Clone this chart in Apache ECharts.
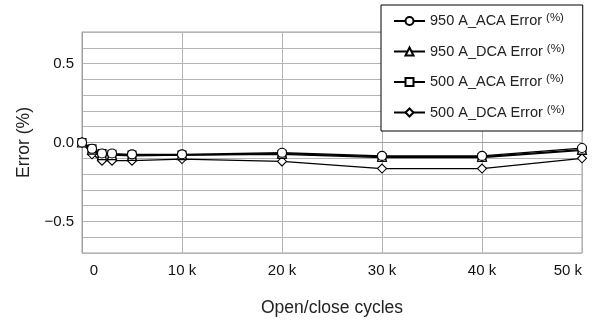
<!DOCTYPE html>
<html>
<head>
<meta charset="utf-8">
<script src="https://cdn.jsdelivr.net/npm/echarts@6/dist/echarts.min.js"></script>
<style>
  html, body { margin: 0; padding: 0; background: #fff; }
  #chart { width: 604px; height: 322px; }
</style>
</head>
<body>
<div id="chart"></div>
<script>
// open/close cycles and error (%) per series
let cycles = [0, 1000, 2000, 3000, 5000, 10000, 20000, 30000, 40000, 50000];
let aca950 = [0, -0.04, -0.07, -0.07, -0.075, -0.075, -0.065, -0.085, -0.085, -0.035];
let dca950 = [0, -0.045, -0.08, -0.08, -0.085, -0.08, -0.07, -0.09, -0.09, -0.045];
let aca500 = [0, -0.04, -0.07, -0.075, -0.08, -0.08, -0.075, -0.095, -0.095, -0.05];
let dca500 = [0, -0.075, -0.115, -0.115, -0.115, -0.105, -0.12, -0.165, -0.165, -0.1];
let seriesNames = ['950 A_ACA Error (%)', '950 A_DCA Error (%)', '500 A_ACA Error (%)', '500 A_DCA Error (%)'];
let seriesSymbols = ['circle', 'triangle', 'rect', 'diamond'];
let yTickLabels = ['-0.5', '0.0', '0.5'];

function pairs(values) {
    return cycles.map(function (c, i) { return [c, values[i]]; });
}

let allValues = [aca950, dca950, aca500, dca500];
let series = allValues.map(function (vals, i) {
    return {
        name: seriesNames[i],
        type: 'line',
        data: pairs(vals),
        symbol: seriesSymbols[i],
        symbolSize: seriesSymbols[i] === 'rect' ? 8 : 9,
        z: 10 - i,
        lineStyle: { color: '#000', width: 1.3 },
        itemStyle: { color: '#fff', borderColor: '#000', borderWidth: 1.1 }
    };
});

let myChart = echarts.init(document.getElementById('chart'));
let option = {
    backgroundColor: '#fff',
    animation: false,
    textStyle: { fontFamily: 'Liberation Sans' },
    grid: {
        left: 82, right: 22, top: 32, bottom: 66,
        show: true, borderColor: '#a0a0a0', borderWidth: 1
    },
    legend: {
        orient: 'vertical',
        left: 381, top: 5,
        padding: [7, 18, 11, 12],
        itemGap: 14,
        itemWidth: 31,
        itemHeight: 10,
        backgroundColor: '#fff',
        borderColor: '#000',
        borderWidth: 1,
        data: seriesNames,
        formatter: function (name) {
            let parts = name.split(' (');
            return parts[0] + ' {s|(' + parts[1] + '}';
        },
        textStyle: {
            fontSize: 14.5, color: '#222',
            rich: { s: { fontSize: 11.5, color: '#222', padding: [0, 0, 6, 0] } }
        }
    },
    xAxis: {
        type: 'value',
        min: 0, max: 50000, interval: 10000,
        name: 'Open/close cycles',
        nameLocation: 'middle',
        nameGap: 46,
        nameTextStyle: { fontSize: 17.5, color: '#222' },
        axisLine: { show: true, lineStyle: { color: '#a0a0a0' } },
        axisTick: { show: false },
        splitLine: { show: true, lineStyle: { color: '#b4b4b4', width: 1 } },
        axisLabel: {
            fontSize: 15, color: '#111', margin: 10,
            alignMaxLabel: 'right',
            formatter: function (v) {
                if (v === 0) return '{z|0}';
                return (v / 1000) + ' k';
            },
            rich: { z: { fontSize: 15, color: '#111', padding: [0, 0, 0, 24] } }
        }
    },
    yAxis: {
        type: 'value',
        min: -0.7, max: 0.7, interval: 0.1,
        name: 'Error (%)',
        nameLocation: 'middle',
        nameGap: 41,
        nameTextStyle: { fontSize: 17.5, color: '#222' },
        axisLine: { show: true, lineStyle: { color: '#a0a0a0' } },
        axisTick: { show: false },
        splitLine: { show: true, lineStyle: { color: '#b4b4b4', width: 1 } },
        axisLabel: {
            fontSize: 15, color: '#111', margin: 8,
            formatter: function (v) {
                let t = (Math.round(v * 10) / 10).toFixed(1);
                if (t === '-0.0') t = '0.0';
                if (yTickLabels.indexOf(t) < 0) return '';
                return t.replace('-', '\u2212');
            }
        }
    },
    series: series
};
myChart.setOption(option);
</script>
</body>
</html>
